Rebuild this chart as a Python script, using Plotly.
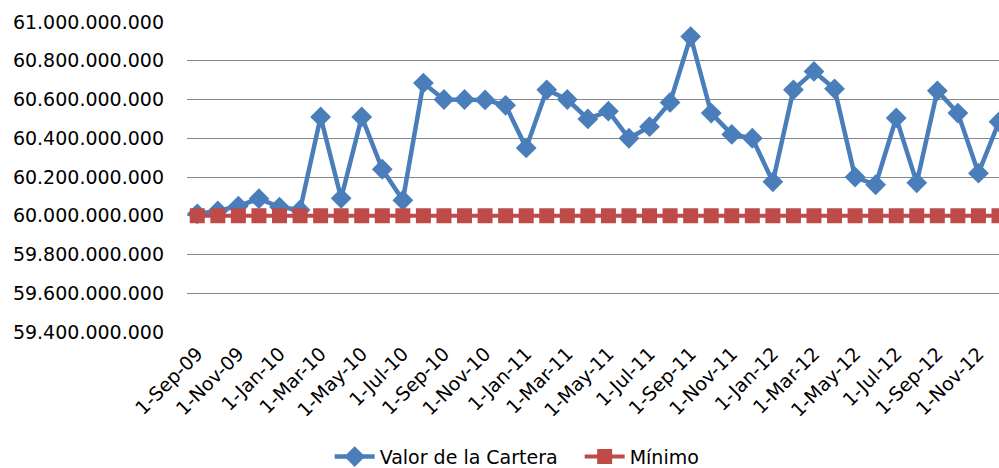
import plotly.graph_objects as go

# monthly dates (category labels)
months = ["1-Sep-09", "1-Oct-09", "1-Nov-09", "1-Dec-09",
          "1-Jan-10", "1-Feb-10", "1-Mar-10", "1-Apr-10", "1-May-10", "1-Jun-10",
          "1-Jul-10", "1-Aug-10", "1-Sep-10", "1-Oct-10", "1-Nov-10", "1-Dec-10",
          "1-Jan-11", "1-Feb-11", "1-Mar-11", "1-Apr-11", "1-May-11", "1-Jun-11",
          "1-Jul-11", "1-Aug-11", "1-Sep-11", "1-Oct-11", "1-Nov-11", "1-Dec-11",
          "1-Jan-12", "1-Feb-12", "1-Mar-12", "1-Apr-12", "1-May-12", "1-Jun-12",
          "1-Jul-12", "1-Aug-12", "1-Sep-12", "1-Oct-12", "1-Nov-12", "1-Dec-12"]

# valor de la cartera
valor_cartera = [60010000000, 60025000000, 60050000000, 60088000000, 60045000000,
                 60030000000, 60510000000, 60090000000, 60510000000, 60240000000,
                 60080000000, 60685000000, 60600000000, 60600000000, 60598000000,
                 60570000000, 60350000000, 60650000000, 60600000000, 60500000000,
                 60540000000, 60400000000, 60460000000, 60585000000, 60925000000,
                 60530000000, 60420000000, 60400000000, 60175000000, 60650000000,
                 60745000000, 60655000000, 60200000000, 60160000000, 60505000000,
                 60170000000, 60645000000, 60530000000, 60220000000, 60485000000]

minimo = [60000000000] * len(months)

tick_labels = months[::2]

blue = "#4A7EBB"
red = "#BE4B48"

fig = go.Figure()
fig.add_trace(go.Scatter(x=months, y=valor_cartera, mode="lines+markers",
                         name="Valor de la Cartera",
                         line=dict(color=blue, width=4.5),
                         marker=dict(symbol="diamond", size=16, color=blue)))
fig.add_trace(go.Scatter(x=months, y=minimo, mode="lines+markers", name="Mínimo",
                         line=dict(color=red, width=4),
                         marker=dict(symbol="square", size=15, color=red)))

fig.update_xaxes(type="category", range=[-0.5, 39], tickvals=tick_labels,
                 ticktext=tick_labels, tickangle=-45, showgrid=False,
                 showline=False, zeroline=False, ticks="", automargin=False,
                 ticklabelstandoff=6)
fig.update_yaxes(range=[59400000000, 61000000000], dtick=200000000,
                 tickformat=",d", showgrid=True, gridcolor="#868686", gridwidth=1,
                 zeroline=False, showline=False, ticklabelstandoff=22,
                 automargin=False)

fig.update_layout(
    width=999, height=468,
    separators=",.",
    plot_bgcolor="white", paper_bgcolor="white",
    font=dict(family="DejaVu Sans", size=19, color="#000000"),
    margin=dict(l=187, r=0, t=22, b=136, autoexpand=False),
    legend=dict(orientation="h", xref="container", yref="container",
                x=0.330, y=0.024, xanchor="left", yanchor="middle",
                itemwidth=40, entrywidth=195, font=dict(size=19)),
)

# drop the default page margin so the figure fills the window
fig.write_html("out.html", config={"displayModeBar": False},
               post_script="document.body.style.margin='0';document.body.style.overflow='hidden';")
